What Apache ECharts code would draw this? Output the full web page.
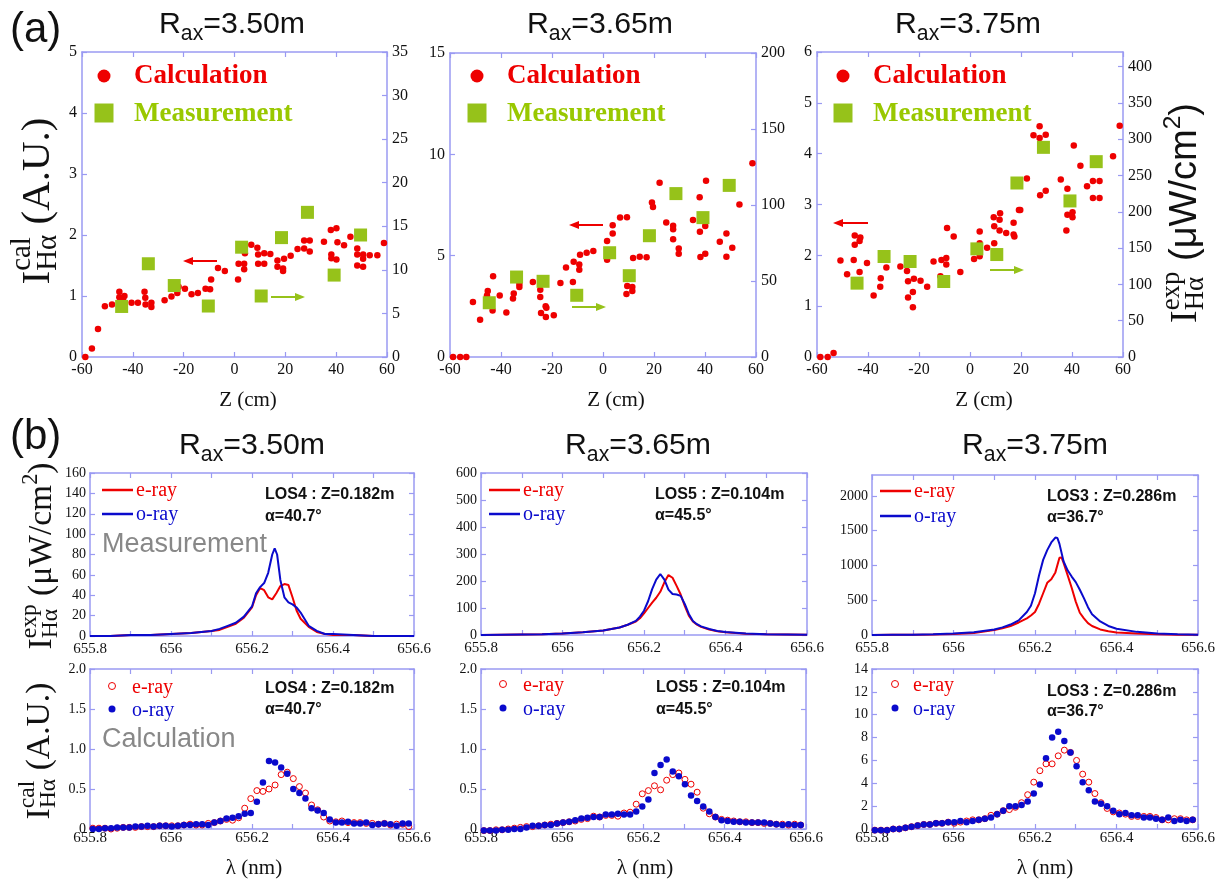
<!DOCTYPE html>
<html><head><meta charset="utf-8">
<script src="https://cdn.jsdelivr.net/npm/echarts@6/dist/echarts.min.js"></script>
<style>html,body{margin:0;padding:0;background:#fff}#c{width:1228px;height:885px}</style>
</head><body><div id="c"></div><script>
// ---------------- DATA ----------------
const radii = ['3.50', '3.65', '3.75'];
// (a) Z (cm) vs intensity
const a350Calc = [[-58.7,0],[-56.1,0.14],[-53.7,0.46],[-51.0,0.83],[-48.2,0.86],[-45.3,1.07],[-45.3,0.98],[-43.3,1.00],[-43.8,0.93],[-40.5,0.89],[-38.0,0.89],[-35.4,1.07],[-35.1,0.97],[-35.0,0.86],[-32.7,0.89],[-32.7,0.82],[-27.5,0.93],[-24.8,0.99],[-22.5,1.05],[-22.0,1.15],[-19.5,1.12],[-16.9,1.03],[-14.4,1.05],[-11.4,1.12],[-9.6,1.11],[-9.2,1.27],[-6.5,1.46],[-3.8,1.41],[1.4,1.27],[1.6,1.53],[3.8,1.53],[3.8,1.44],[4.1,1.70],[6.6,1.84],[9.0,1.79],[9.3,1.68],[9.3,1.53],[11.7,1.53],[11.7,1.70],[14.1,1.69],[16.9,1.58],[16.9,1.48],[19.1,1.45],[19.1,1.41],[19.5,1.61],[22.1,1.66],[24.8,1.77],[27.4,1.91],[27.4,1.78],[29.6,1.91],[29.6,1.73],[35.2,1.89],[37.9,2.08],[40.1,2.11],[38.1,1.68],[38.1,1.62],[40.1,1.60],[40.5,1.88],[43.1,1.83],[45.6,1.97],[48.3,1.78],[48.3,1.68],[48.3,1.50],[50.6,1.68],[50.6,1.61],[50.6,1.48],[53.2,1.67],[56.2,1.67],[58.8,1.87]];
const a350Meas = [[-44.4,5.8],[-33.9,10.7],[-23.7,8.2],[-10.3,5.85],[2.8,12.6],[10.5,7.0],[18.5,13.7],[28.7,16.6],[39.2,9.4],[49.6,14.0]];
const a365Calc = [[-58.8,0],[-56.0,0],[-53.6,0],[-51.0,2.71],[-48.2,1.84],[-45.2,3.26],[-45.5,3.04],[-43.1,3.98],[-43.3,2.30],[-40.5,3.03],[-37.9,2.20],[-35.0,3.13],[-35.3,2.89],[-32.8,3.60],[-32.8,3.45],[-27.5,3.70],[-24.6,3.32],[-24.6,2.96],[-24.3,2.17],[-22.5,2.50],[-22.2,2.43],[-22.4,1.97],[-19.3,2.06],[-16.7,3.65],[-14.5,4.41],[-11.8,3.70],[-11.5,4.70],[-9.3,4.57],[-9.3,4.31],[-9.0,5.05],[-6.4,5.15],[-3.8,5.23],[1.6,5.72],[1.6,4.80],[3.8,6.09],[3.8,6.50],[6.7,6.88],[9.4,6.89],[9.2,3.11],[9.5,3.50],[11.5,3.45],[11.5,3.26],[11.8,4.88],[14.4,4.95],[17.1,4.92],[17.0,5.87],[19.2,7.62],[19.6,7.40],[22.2,8.60],[24.8,6.64],[27.5,6.48],[27.5,6.30],[27.5,5.81],[29.7,5.35],[29.7,5.10],[35.3,6.76],[37.9,7.88],[38.0,6.18],[38.2,4.93],[40.1,6.46],[40.1,5.10],[40.4,8.70],[45.8,5.69],[48.4,6.09],[48.4,4.95],[50.7,5.39],[53.5,7.53],[58.6,9.56]];
const a365Meas = [[-44.6,35.7],[-33.9,52.6],[-23.5,49.8],[-10.3,40.6],[2.6,68.6],[10.3,53.5],[18.2,79.8],[28.6,107.5],[39.2,91.7],[49.5,112.9]];
const a375Calc = [[-58.7,0],[-55.8,0],[-53.5,0.08],[-50.8,1.90],[-48.2,1.63],[-45.6,1.91],[-45.2,2.39],[-45.2,2.21],[-43.0,2.35],[-43.3,2.28],[-43.3,1.67],[-40.4,1.85],[-37.8,1.21],[-35.2,1.38],[-35.0,1.55],[-32.8,1.76],[-27.3,1.78],[-24.7,1.69],[-24.3,1.49],[-24.3,1.17],[-22.4,1.28],[-22.4,0.98],[-22.0,1.54],[-19.4,1.50],[-16.8,1.38],[-14.3,1.88],[-11.6,1.59],[-11.2,1.91],[-9.3,1.95],[-9.3,1.82],[-9.0,2.54],[-6.4,2.37],[-3.8,1.67],[1.6,1.93],[3.8,1.98],[3.8,2.24],[3.8,2.47],[6.7,2.15],[9.3,2.75],[9.5,2.57],[9.5,2.24],[11.6,2.70],[11.6,2.49],[11.8,2.83],[14.2,2.44],[17.1,2.64],[17.1,2.41],[17.4,2.37],[19.2,2.89],[19.7,2.89],[22.3,3.51],[24.9,4.36],[27.3,4.54],[27.3,4.31],[27.5,3.18],[29.7,4.37],[29.7,3.27],[35.6,3.49],[37.8,2.49],[38.2,3.31],[38.2,2.80],[40.2,2.85],[40.2,2.75],[40.7,4.16],[43.3,3.76],[45.9,3.36],[48.2,3.46],[50.8,3.46],[48.2,3.13],[50.8,3.13],[56.1,3.95],[58.7,4.55]];
const a375Meas = [[-44.3,101.7],[-33.7,138.4],[-23.5,131.5],[-10.3,104.0],[2.7,148.9],[10.5,141.1],[18.4,239.6],[28.8,288.7],[39.2,214.9],[49.5,269.0]];

// (b) measured spectra [lambda nm, intensity uW/cm2]
const b350ExpE = [[655.80,0],[655.85,0],[655.90,1],[655.95,1],[656.00,2],[656.05,3],[656.10,5],[656.12,6],[656.14,9],[656.16,12],[656.18,18],[656.20,28],[656.21,40],[656.22,47],[656.23,45],[656.24,38],[656.25,36],[656.26,42],[656.27,49],[656.28,51],[656.29,50],[656.30,38],[656.31,25],[656.32,17],[656.34,9],[656.36,4],[656.38,2],[656.40,1],[656.45,1],[656.50,0],[656.55,0],[656.60,0]];
const b350ExpO = [[655.80,0],[655.85,0],[655.90,1],[655.95,1],[656.00,2],[656.05,3],[656.10,5],[656.12,7],[656.14,10],[656.16,13],[656.18,19],[656.20,29],[656.21,42],[656.22,48],[656.23,52],[656.24,62],[656.25,80],[656.256,86],[656.262,80],[656.27,55],[656.28,38],[656.29,33],[656.30,31],[656.31,28],[656.32,23],[656.34,10],[656.36,5],[656.38,2],[656.40,2],[656.45,1],[656.50,0],[656.55,0],[656.60,0]];
const b365ExpE = [[655.80,0],[655.85,1],[655.90,2],[655.95,3],[656.00,6],[656.05,10],[656.10,17],[656.12,22],[656.14,28],[656.16,38],[656.18,50],[656.19,62],[656.20,80],[656.21,100],[656.22,120],[656.23,138],[656.24,160],[656.25,195],[656.26,222],[656.27,212],[656.28,182],[656.29,150],[656.30,108],[656.31,72],[656.32,50],[656.33,38],[656.34,30],[656.36,20],[656.38,14],[656.40,10],[656.45,5],[656.50,3],[656.55,2],[656.60,1]];
const b365ExpO = [[655.80,0],[655.85,1],[655.90,2],[655.95,3],[656.00,6],[656.05,10],[656.10,17],[656.12,22],[656.14,28],[656.16,38],[656.18,52],[656.19,68],[656.20,90],[656.21,125],[656.22,170],[656.23,205],[656.24,226],[656.25,205],[656.26,168],[656.27,152],[656.28,150],[656.29,145],[656.30,115],[656.31,78],[656.32,52],[656.33,40],[656.34,32],[656.36,22],[656.38,15],[656.40,11],[656.45,6],[656.50,3],[656.55,2],[656.60,1]];
const b375ExpE = [[655.80,0],[655.85,3],[655.90,5],[655.95,8],[656.00,15],[656.05,30],[656.10,70],[656.12,95],[656.14,130],[656.16,180],[656.18,240],[656.19,280],[656.20,330],[656.21,450],[656.22,600],[656.23,750],[656.24,800],[656.25,900],[656.26,1110],[656.265,1115],[656.27,1040],[656.28,860],[656.29,680],[656.30,480],[656.31,320],[656.32,240],[656.33,170],[656.34,130],[656.36,80],[656.38,55],[656.40,35],[656.45,20],[656.50,10],[656.55,5],[656.60,3]];
const b375ExpO = [[655.80,0],[655.85,3],[655.90,5],[655.95,10],[656.00,20],[656.05,40],[656.10,80],[656.12,110],[656.14,150],[656.16,210],[656.18,330],[656.19,420],[656.20,600],[656.21,860],[656.22,1080],[656.23,1220],[656.24,1330],[656.25,1400],[656.255,1395],[656.26,1310],[656.27,1060],[656.28,930],[656.29,840],[656.30,760],[656.31,650],[656.32,530],[656.33,400],[656.34,300],[656.36,195],[656.38,130],[656.40,90],[656.45,45],[656.50,22],[656.55,10],[656.60,5]];

// (b) calculated spectra (A.U.)
const lambdaCalc = [655.807,655.822,655.837,655.852,655.867,655.882,655.897,655.912,655.927,655.942,655.957,655.972,655.987,656.002,656.017,656.032,656.047,656.062,656.077,656.092,656.107,656.122,656.137,656.152,656.167,656.182,656.197,656.212,656.227,656.242,656.257,656.272,656.287,656.302,656.317,656.332,656.347,656.362,656.377,656.392,656.407,656.422,656.437,656.452,656.467,656.482,656.497,656.512,656.527,656.542,656.557,656.572,656.587];
const b350CalE = [0.01,0.01,0.01,0.00,0.01,0.02,0.02,0.02,0.03,0.03, 0.03,0.04,0.04,0.04,0.04,0.05,0.06,0.05,0.05,0.07, 0.08,0.10,0.12,0.11,0.14,0.26,0.38,0.48,0.47,0.50, 0.55,0.68,0.71,0.63,0.53,0.45,0.30,0.24,0.15,0.10, 0.09,0.10,0.08,0.08,0.08,0.07,0.07,0.06,0.07,0.05, 0.06,0.06,0.03];
const b350CalO = [0.00,0.00,0.01,0.01,0.02,0.02,0.02,0.03,0.03,0.04, 0.03,0.04,0.04,0.03,0.04,0.05,0.05,0.06,0.06,0.05, 0.08,0.10,0.13,0.14,0.16,0.19,0.20,0.34,0.58,0.85, 0.83,0.77,0.69,0.50,0.45,0.38,0.26,0.23,0.20,0.12, 0.08,0.08,0.09,0.07,0.07,0.08,0.05,0.06,0.07,0.06, 0.04,0.07,0.07];
const b365CalE = [-0.02,-0.02,-0.01,-0.01,0.00,0.01,0.02,0.03,0.03,0.04, 0.05,0.06,0.07,0.08,0.09,0.10,0.12,0.13,0.16,0.15, 0.17,0.17,0.16,0.20,0.21,0.31,0.44,0.48,0.54,0.49, 0.61,0.68,0.70,0.62,0.56,0.46,0.26,0.19,0.15,0.12, 0.11,0.10,0.09,0.09,0.08,0.08,0.07,0.07,0.06,0.06, 0.05,0.06,0.05];
const b365CalO = [-0.02,-0.02,-0.02,-0.01,-0.01,0.00,0.00,0.02,0.04,0.04, 0.05,0.05,0.07,0.08,0.09,0.11,0.13,0.14,0.15,0.15, 0.18,0.18,0.19,0.18,0.18,0.22,0.28,0.37,0.70,0.80, 0.87,0.72,0.66,0.56,0.42,0.35,0.28,0.22,0.15,0.11, 0.10,0.09,0.09,0.08,0.08,0.08,0.08,0.07,0.06,0.05, 0.06,0.05,0.05];
const b375CalE = [-0.1,-0.1,-0.1,0.0,0.0,0.1,0.2,0.3,0.4,0.4, 0.5,0.5,0.6,0.5,0.6,0.7,0.8,0.8,0.9,1.2, 1.3,1.6,1.7,1.9,2.3,3.0,4.1,5.1,5.7,5.7, 6.4,6.9,6.7,6.0,4.8,4.1,3.1,2.3,1.8,1.5, 1.4,1.3,1.1,1.1,1.1,1.1,1.0,0.8,0.8,0.9, 0.9,0.8,0.8];
const b375CalO = [-0.1,-0.1,-0.1,0.0,0.0,0.1,0.2,0.3,0.4,0.4, 0.5,0.5,0.6,0.6,0.7,0.6,0.7,0.8,0.9,1.0, 1.3,1.6,2.0,2.0,2.1,2.4,3.1,3.9,6.2,8.0, 8.5,7.7,6.7,5.5,4.1,3.4,2.4,2.2,2.0,1.6, 1.3,1.4,1.2,1.2,1.0,1.0,0.9,0.8,1.0,0.7, 0.8,0.7,0.8];

const losLabels = ['LOS4 : Z=0.182m', 'LOS5 : Z=0.104m', 'LOS3 : Z=0.286m'];
const alphaLabels = ['α=40.7°', 'α=45.5°', 'α=36.7°'];

// ---------------- STYLE / LAYOUT ----------------
const SERIF = '"Liberation Serif","Times New Roman",serif';
const SANS = '"Liberation Sans",Arial,sans-serif';
const AXC = '#9a9af2';
const RED = '#ee0000', BLUE = '#0a0acc', GREEN = '#96c21a', GREENT = '#99c800', GRAY = '#888888';

const grids = [
  {left:82, top:52, width:305, height:305},
  {left:450, top:53, width:306, height:304},
  {left:817, top:52, width:306, height:305},
  {left:90, top:473, width:324, height:163},
  {left:481, top:473, width:326, height:162},
  {left:872, top:475, width:326, height:160},
  {left:90, top:669, width:324, height:160},
  {left:481, top:669, width:325, height:160},
  {left:872, top:669, width:326, height:160}
];

const xAxes = [], yAxes = [];
function ax(extra) {
  return Object.assign({
    type:'value',
    axisLine:{show:true, onZero:false, lineStyle:{color:AXC, width:1.5}},
    axisTick:{show:true, inside:true, length:5, lineStyle:{color:AXC, width:1.2}},
    splitLine:{show:false}
  }, extra);
}
const fmtPlain = v => String(v);
function label(size, margin, fmt, extra) {
  return Object.assign({show:true, color:'#111', fontFamily:SERIF, fontSize:size, margin:margin, formatter:fmt || fmtPlain}, extra || {});
}
const fmtLam = v => String(Math.round(v*10)/10);
const fmt1 = v => v === 0 ? '0' : v.toFixed(1);

function addGrid(g, xr, yr, y2r, o) {
  xAxes.push(ax({gridIndex:g, position:'bottom', min:xr[0], max:xr[1], interval:xr[2],
    axisLabel:label(o.xfs, o.xm, o.xfmt),
    minorTick:{show:!!o.minor, splitNumber:2, length:5, lineStyle:{color:AXC, width:1.2}}}));
  xAxes.push(ax({gridIndex:g, position:'top', min:xr[0], max:xr[1], interval:xr[2],
    axisLabel:{show:false},
    minorTick:{show:!!o.minor, splitNumber:2, length:5, lineStyle:{color:AXC, width:1.2}}}));
  yAxes.push(ax({gridIndex:g, position:'left', min:yr[0], max:yr[1], interval:yr[2],
    axisLabel:label(o.yfs, o.ym, o.yfmt, {showMaxLabel: o.hideMax ? false : null})}));
  if (y2r) {
    yAxes.push(ax({gridIndex:g, position:'right', min:y2r[0], max:y2r[1], interval:y2r[2],
      axisLabel:label(o.yfs, o.ym, null, {showMaxLabel: o.hideMax2 ? false : null})}));
  } else {
    yAxes.push(ax({gridIndex:g, position:'right', min:yr[0], max:yr[1], interval:yr[2], axisLabel:{show:false}}));
  }
}
const aOpt = {xfs:16, xm:5, yfs:16, ym:5};
addGrid(0, [-60,60,20], [0,5,1], [0,35,5], aOpt);
addGrid(1, [-60,60,20], [0,15,5], [0,200,50], aOpt);
addGrid(2, [-60,60,20], [0,6,1], [0,420,50], Object.assign({hideMax2:true}, aOpt));
const bOpt = {xfs:15, xm:6, xfmt:fmtLam, yfs:14, ym:4, minor:true};
addGrid(3, [655.8,656.6,0.2], [0,160,20], null, bOpt);
addGrid(4, [655.8,656.6,0.2], [0,600,100], null, bOpt);
addGrid(5, [655.8,656.6,0.2], [0,2300,500], null, Object.assign({hideMax:true}, bOpt));
const cOpt = {xfs:15, xm:2, xfmt:fmtLam, yfs:14, ym:4, minor:true};
addGrid(6, [655.8,656.6,0.2], [0,2,0.5], null, Object.assign({yfmt:fmt1}, cOpt));
addGrid(7, [655.8,656.6,0.2], [0,2,0.5], null, Object.assign({yfmt:fmt1}, cOpt));
addGrid(8, [655.8,656.6,0.2], [0,14,2], null, cOpt);

// ---------------- SERIES ----------------
const series = [];
const aCalc = [a350Calc, a365Calc, a375Calc], aMeas = [a350Meas, a365Meas, a375Meas];
for (let i = 0; i < 3; i++) {
  series.push({type:'scatter', name:'Calculation', xAxisIndex:2*i, yAxisIndex:2*i, data:aCalc[i],
    symbol:'circle', symbolSize:6.5, itemStyle:{color:RED, opacity:1}, clip:false});
  series.push({type:'scatter', name:'Measurement', xAxisIndex:2*i, yAxisIndex:2*i+1, data:aMeas[i],
    symbol:'rect', symbolSize:13, itemStyle:{color:GREEN, opacity:1}, clip:false});
}
const bE = [b350ExpE, b365ExpE, b375ExpE], bO = [b350ExpO, b365ExpO, b375ExpO];
for (let i = 0; i < 3; i++) {
  const g = 3 + i;
  series.push({type:'line', name:'e-ray', xAxisIndex:2*g, yAxisIndex:2*g, data:bE[i], showSymbol:false,
    lineStyle:{color:RED, width:2}, itemStyle:{color:RED}});
  series.push({type:'line', name:'o-ray', xAxisIndex:2*g, yAxisIndex:2*g, data:bO[i], showSymbol:false,
    lineStyle:{color:BLUE, width:2}, itemStyle:{color:BLUE}});
}
const cE = [b350CalE, b365CalE, b375CalE], cO = [b350CalO, b365CalO, b375CalO];
const zip = arr => lambdaCalc.map((l, k) => [l, arr[k]]);
for (let i = 0; i < 3; i++) {
  const g = 6 + i;
  series.push({type:'scatter', name:'e-ray calc', xAxisIndex:2*g, yAxisIndex:2*g, data:zip(cE[i]),
    symbol:'circle', symbolSize:6, clip:false,
    itemStyle:{color:'rgba(255,255,255,0)', borderColor:RED, borderWidth:1, opacity:1}});
  series.push({type:'scatter', name:'o-ray calc', xAxisIndex:2*g, yAxisIndex:2*g, data:zip(cO[i]),
    symbol:'circle', symbolSize:6.5, clip:false, itemStyle:{color:BLUE, opacity:1}});
}

// ---------------- TEXT / ANNOTATIONS ----------------
const cv = document.createElement('canvas').getContext('2d');
function composite(cx, cy, rot, parts, target) {
  const meas = (p, k) => { cv.font = (p.w || 'normal') + ' ' + (p.s*k) + 'px ' + p.f; return cv.measureText(p.t).width; };
  const layout = k => {
    let x = 0, start = 0; const items = [];
    parts.forEach(p => {
      const w = meas(p, k); let px;
      if (p.stack) { px = start; x = Math.max(x, start + w); }
      else { px = x; start = x; x += w; }
      items.push({p, px});
    });
    return {x, items};
  };
  let k = 1;
  if (target) k = target / layout(1).x;
  const L = layout(k);
  return {type:'group', x:cx, y:cy, rotation:rot, silent:true,
    children: L.items.map(({p, px}) => ({type:'text', x:px - L.x/2, y:(p.dy || 0)*k,
      style:{text:p.t, font:(p.w || 'normal') + ' ' + (p.s*k) + 'px ' + p.f, fill:p.c || '#111',
        textAlign:'left', textVerticalAlign:'middle', align:'left', verticalAlign:'middle'}}))};
}
function txt(x, y, t, font, color, alignH) {
  return {type:'text', x, y, silent:true, style:{text:t, font, fill:color || '#111',
    textAlign:alignH || 'left', textVerticalAlign:'middle', align:alignH || 'left', verticalAlign:'middle'}};
}
function arrow(x1, x2, y, color) {
  const dir = Math.sign(x2 - x1), head = 10;
  return [
    {type:'line', silent:true, shape:{x1, y1:y, x2:x2 - dir*head, y2:y}, style:{stroke:color, lineWidth:2}},
    {type:'polygon', silent:true, shape:{points:[[x2, y], [x2 - dir*head, y - 4], [x2 - dir*head, y + 4]]}, style:{fill:color}}
  ];
}

const graphic = [];
graphic.push(txt(10, 30, '(a)', '42px ' + SANS, '#111'));
graphic.push(txt(10, 437, '(b)', '42px ' + SANS, '#111'));
const titleA = [232, 600, 968], titleB = [252, 638, 1035];
for (let i = 0; i < 3; i++) {
  const parts = [{t:'R', s:30, f:SANS}, {t:'ax', s:21, f:SANS, dy:9}, {t:'=' + radii[i] + 'm', s:30, f:SANS}];
  graphic.push(composite(titleA[i], 25, 0, parts, 146));
  graphic.push(composite(titleB[i], 446, 0, parts, 146));
}
// axis titles
graphic.push(composite(38, 201, Math.PI/2, [
  {t:'I', s:34, f:SERIF}, {t:'Hα', s:24, f:SERIF, dy:9}, {t:'cal', s:24, f:SERIF, dy:-13, stack:true},
  {t:' (A.U.)', s:34, f:SERIF}], 167));
graphic.push(composite(1186, 213, Math.PI/2, [
  {t:'I', s:34, f:SERIF}, {t:'Hα', s:24, f:SERIF, dy:9}, {t:'exp', s:24, f:SERIF, dy:-13, stack:true},
  {t:' (μW/cm', s:34, f:SANS}, {t:'2', s:22, f:SANS, dy:-11}, {t:')', s:34, f:SANS}], 220));
graphic.push(composite(42, 556, Math.PI/2, [
  {t:'I', s:27, f:SERIF}, {t:'Hα', s:19, f:SERIF, dy:7}, {t:'exp', s:19, f:SERIF, dy:-10, stack:true},
  {t:' (μW/cm', s:27, f:SERIF}, {t:'2', s:18, f:SERIF, dy:-9}, {t:')', s:27, f:SERIF}], 187));
graphic.push(composite(40, 751, Math.PI/2, [
  {t:'I', s:27, f:SERIF}, {t:'Hα', s:19, f:SERIF, dy:7}, {t:'cal', s:19, f:SERIF, dy:-10, stack:true},
  {t:' (A.U.)', s:27, f:SERIF}], 137));
const zPos = [248, 616, 984], lamPos = [254, 645, 1045];
for (let i = 0; i < 3; i++) {
  graphic.push(txt(zPos[i], 400, 'Z (cm)', '21px ' + SERIF, '#111', 'center'));
  graphic.push(txt(lamPos[i], 868, 'λ (nm)', '21px ' + SERIF, '#111', 'center'));
}
// (a) legends and arrows
const legA = [[104, 76], [477, 76], [843, 76]];
legA.forEach(([lx, ly]) => {
  graphic.push({type:'circle', silent:true, shape:{cx:lx, cy:ly, r:6.5}, style:{fill:RED}});
  graphic.push(txt(lx + 30, ly, 'Calculation', 'bold 27px ' + SERIF, RED));
  graphic.push({type:'rect', silent:true, shape:{x:lx - 9.5, y:ly + 27.5, width:19, height:19}, style:{fill:GREEN}});
  graphic.push(txt(lx + 30, ly + 38, 'Measurement', 'bold 27px ' + SERIF, GREENT));
});
graphic.push(...arrow(217, 183, 261, RED), ...arrow(271, 305, 297, GREEN));
graphic.push(...arrow(603, 569, 225, RED), ...arrow(572, 606, 307, GREEN));
graphic.push(...arrow(868, 833, 223, RED), ...arrow(990, 1024, 270, GREEN));
// (b) measured legends
const legB = [{lx:102, ye:490, yo:514, tx:265, ty:495, ay:517},
              {lx:489, ye:490, yo:514, tx:655, ty:495, ay:516},
              {lx:880, ye:491, yo:516, tx:1047, ty:497, ay:518}];
legB.forEach((L, i) => {
  graphic.push({type:'line', silent:true, shape:{x1:L.lx, y1:L.ye, x2:L.lx + 31, y2:L.ye}, style:{stroke:RED, lineWidth:2.5}});
  graphic.push({type:'line', silent:true, shape:{x1:L.lx, y1:L.yo, x2:L.lx + 31, y2:L.yo}, style:{stroke:BLUE, lineWidth:2.5}});
  graphic.push(txt(L.lx + 34, L.ye + 1, 'e-ray', '20px ' + SERIF, RED));
  graphic.push(txt(L.lx + 34, L.yo + 1, 'o-ray', '20px ' + SERIF, BLUE));
  graphic.push(txt(L.tx, L.ty, losLabels[i], 'bold 16px ' + SANS, '#111'));
  graphic.push(txt(L.tx, L.ay, alphaLabels[i], 'bold 16px ' + SANS, '#111'));
});
// (b) calculated legends
const legC = [{mx:112, ye:686, yo:709, tx:132, lx:265, ly:689, ay:710},
              {mx:503, ye:684, yo:708, tx:523, lx:656, ly:688, ay:710},
              {mx:895, ye:684, yo:708, tx:913, lx:1047, ly:692, ay:712}];
legC.forEach((L, i) => {
  graphic.push({type:'circle', silent:true, shape:{cx:L.mx, cy:L.ye, r:3.5}, style:{fill:'none', stroke:RED, lineWidth:1}});
  graphic.push({type:'circle', silent:true, shape:{cx:L.mx, cy:L.yo, r:3.5}, style:{fill:BLUE}});
  graphic.push(txt(L.tx, L.ye + 2, 'e-ray', '20px ' + SERIF, RED));
  graphic.push(txt(L.tx, L.yo + 2, 'o-ray', '20px ' + SERIF, BLUE));
  graphic.push(txt(L.lx, L.ly, losLabels[i], 'bold 16px ' + SANS, '#111'));
  graphic.push(txt(L.lx, L.ay, alphaLabels[i], 'bold 16px ' + SANS, '#111'));
});
graphic.push(txt(102, 545, 'Measurement', '27px ' + SANS, GRAY));
graphic.push(txt(102, 740, 'Calculation', '27px ' + SANS, GRAY));

const chart = echarts.init(document.getElementById('c'), null, {renderer:'canvas'});
chart.setOption({
  animation:false,
  backgroundColor:'#ffffff',
  grid:grids,
  xAxis:xAxes,
  yAxis:yAxes,
  series:series,
  graphic:graphic
});
</script></body></html>
